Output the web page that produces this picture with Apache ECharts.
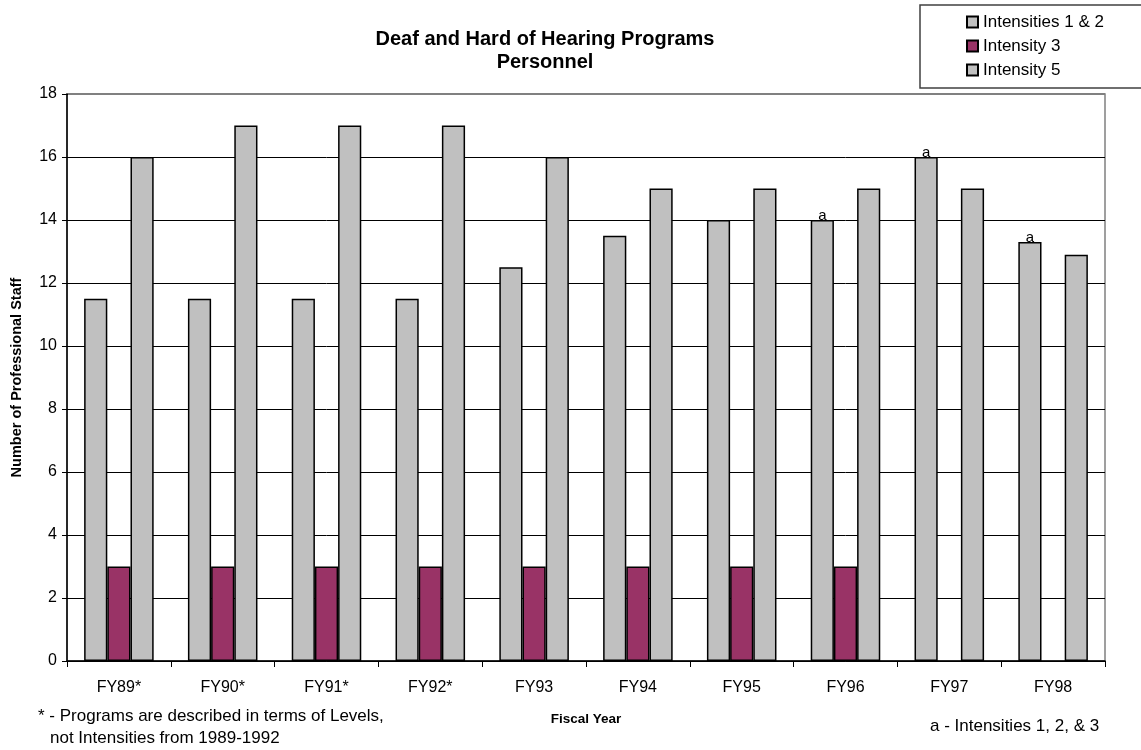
<!DOCTYPE html>
<html>
<head>
<meta charset="utf-8">
<script src="https://cdn.jsdelivr.net/npm/echarts@6/dist/echarts.min.js"></script>
<style>
html,body{margin:0;padding:0;background:#fff;}
#chart{width:1141px;height:750px;}
</style>
</head>
<body>
<div id="chart"></div>
<script>
const categories = ['FY89*','FY90*','FY91*','FY92*','FY93','FY94','FY95','FY96','FY97','FY98'];
const intensities12 = [11.5,11.5,11.5,11.5,12.5,13.5,14,14,16,13.3];
const intensity3 = [3,3,3,3,3,3,3,3,null,null];
const intensity5 = [16,17,17,17,16,15,15,15,15,12.9];
const noteA = [false,false,false,false,false,false,false,true,true,true];
const yTicks = {min:0, max:18, interval:2};

const font = 'Liberation Sans, Arial, sans-serif';
const chart = echarts.init(document.getElementById('chart'), null, {renderer:'canvas'});

const s1data = intensities12.map((v,i)=> noteA[i] ? {value:v, label:{show:true, formatter:'a', position:'top', distance:-3, color:'#000', fontSize:15, fontFamily:font}} : v);

const barStyle = c => ({color:c, borderColor:'#000', borderWidth:1.5});

chart.setOption({
  animation:false,
  backgroundColor:'#fff',
  title:{
    text:'Deaf and Hard of Hearing Programs\nPersonnel',
    left:540, top:23, textAlign:'center',
    textStyle:{fontFamily:font, fontSize:20, fontWeight:'bold', color:'#000', lineHeight:23}
  },
  legend:{
    orient:'vertical', left:966, top:12, padding:0, itemWidth:11, itemHeight:11, itemGap:4,
    icon:'rect',
    textStyle:{fontFamily:font, fontSize:17, color:'#000', lineHeight:18, padding:[2,0,0,0]},
    data:['Intensities 1 & 2','Intensity 3','Intensity 5']
  },
  grid:{left:67, right:36, top:94, bottom:89, show:true, borderColor:'#808080', borderWidth:1.5, backgroundColor:'transparent'},
  xAxis:{
    type:'category', data:categories,
    axisLine:{lineStyle:{color:'#000', width:1.5}},
    axisTick:{show:true, alignWithLabel:false, length:6, lineStyle:{color:'#000'}},
    axisLabel:{fontFamily:font, fontSize:16, color:'#000', margin:19},
    name:'Fiscal Year', nameLocation:'middle', nameGap:51,
    nameTextStyle:{fontFamily:font, fontSize:13.5, fontWeight:'bold', color:'#000'}
  },
  yAxis:{
    type:'value', min:yTicks.min, max:yTicks.max, interval:yTicks.interval,
    axisLine:{show:true, lineStyle:{color:'#000', width:1.5}},
    axisTick:{show:true, length:5, lineStyle:{color:'#000'}},
    axisLabel:{fontFamily:font, fontSize:16, color:'#000', margin:10},
    splitLine:{show:true, lineStyle:{color:'#000', width:1}},
    name:'Number of Professional Staff', nameLocation:'middle', nameGap:43,
    nameTextStyle:{fontFamily:font, fontSize:14.5, fontWeight:'bold', color:'#000'}
  },
  series:[
    {name:'Intensities 1 & 2', type:'bar', data:s1data, barGap:'0%', barCategoryGap:'33%', itemStyle:barStyle('#C0C0C0')},
    {name:'Intensity 3', type:'bar', data:intensity3, itemStyle:barStyle('#993366')},
    {name:'Intensity 5', type:'bar', data:intensity5, itemStyle:barStyle('#C0C0C0')}
  ],
  graphic:[
    {type:'line', shape:{x1:68, y1:94, x2:1105, y2:94}, style:{stroke:'#808080', lineWidth:2}, z:100},
    {type:'rect', shape:{x:920, y:5, width:240, height:83}, style:{fill:'none', stroke:'#404040', lineWidth:1.5}, z:-1},
    {type:'text', left:38, top:708, style:{text:'* - Programs are described in terms of Levels,', fontFamily:font, fontSize:17, fill:'#000'}},
    {type:'text', left:50, top:730, style:{text:'not Intensities from 1989-1992', fontFamily:font, fontSize:17, fill:'#000'}},
    {type:'text', left:930, top:718, style:{text:'a - Intensities 1, 2, & 3', fontFamily:font, fontSize:17, fill:'#000'}}
  ]
});
</script>
</body>
</html>
